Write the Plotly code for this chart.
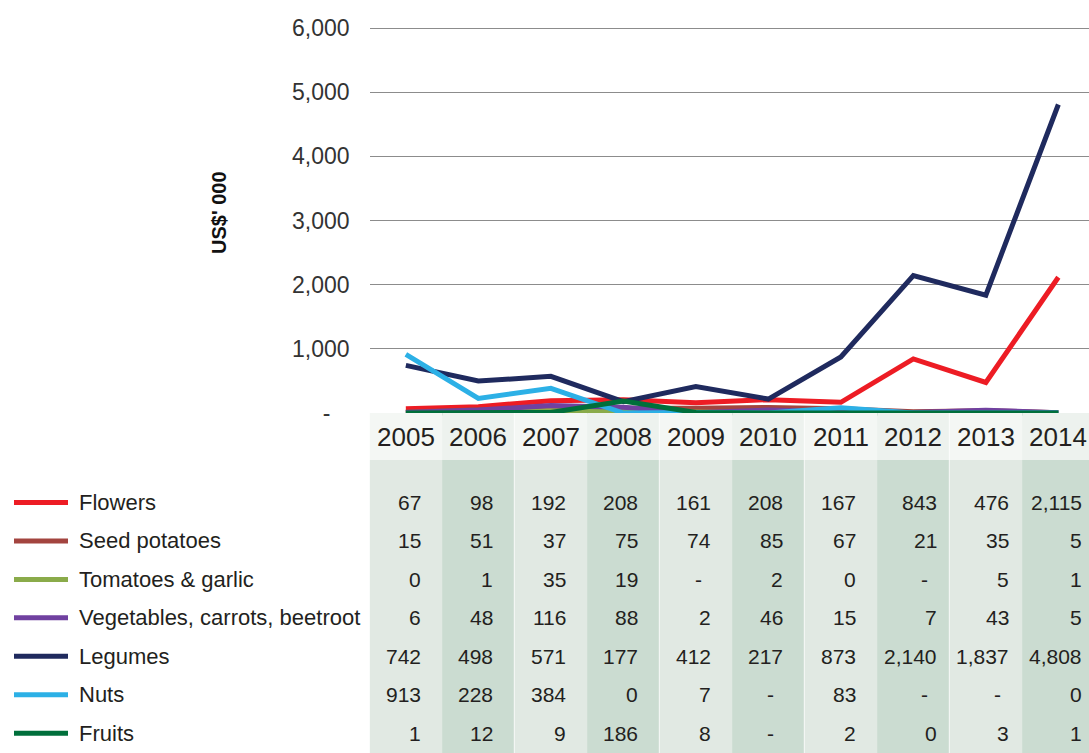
import plotly.graph_objects as go

# ---------------- data ----------------
years = [2005, 2006, 2007, 2008, 2009, 2010, 2011, 2012, 2013, 2014]
series_names = ["Flowers", "Seed potatoes", "Tomatoes & garlic",
                "Vegetables, carrots, beetroot", "Legumes", "Nuts", "Fruits"]
flowers = [67, 98, 192, 208, 161, 208, 167, 843, 476, 2115]
seed_potatoes = [15, 51, 37, 75, 74, 85, 67, 21, 35, 5]
tomatoes_garlic = [0, 1, 35, 19, None, 2, 0, None, 5, 1]
vegetables = [6, 48, 116, 88, 2, 46, 15, 7, 43, 5]
legumes = [742, 498, 571, 177, 412, 217, 873, 2140, 1837, 4808]
nuts = [913, 228, 384, 0, 7, None, 83, None, None, 0]
fruits = [1, 12, 9, 186, 8, None, 2, 0, 3, 1]
y_tickvals = [0, 1000, 2000, 3000, 4000, 5000, 6000]
y_ticktext = ["-\u00a0\u00a0\u00a0", "1,000", "2,000", "3,000", "4,000", "5,000", "6,000"]
y_title = "US$' 000"

series_values = [flowers, seed_potatoes, tomatoes_garlic, vegetables, legumes, nuts, fruits]
colors = ["#ed1c24", "#a3443f", "#8aab4a", "#7041a0", "#1f2a5e", "#2cb0e6", "#006f3b"]

# ---------------- layout constants (pixels) ----------------
W, H = 1089, 753
plot_left = 369.6
col_w = 72.5
y_top_px, y_zero_px = 28, 413
px_per_unit = (y_zero_px - y_top_px) / 6000.0
chart_top_px = 24
chart_bottom_px = 421
row0_px, row_h = 502.5, 38.45
header_bottom_px = 460

def pf(p):  # pixel y -> paper fraction
    return 1 - p / H

x_lo = 2004.5
x_hi = 2004.5 + (W - plot_left) / col_w
y_lo = -(chart_bottom_px - y_zero_px) / px_per_unit
y_hi = 6000 + (y_top_px - chart_top_px) / px_per_unit

# rows axis (table)
r_top = (y_zero_px - row0_px) / row_h
r_bot = (H - row0_px) / row_h
r_head = (437 - row0_px) / row_h
r_head_bottom = (header_bottom_px - row0_px) / row_h

font_family = "Liberation Sans, Arial, sans-serif"
txt_color = "#231f20"

fig = go.Figure()

for name, vals, c in zip(series_names, series_values, colors):
    fig.add_trace(go.Scatter(
        x=years, y=[v if v is not None else 0 for v in vals],
        mode="lines", name=name, line=dict(color=c, width=5),
        showlegend=False, hoverinfo="x+y+name"))

# invisible trace to create the table subplot
fig.add_trace(go.Scatter(x=[years[0]], y=[0], xaxis="x", yaxis="y2", mode="markers",
                         marker=dict(opacity=0), showlegend=False, hoverinfo="skip"))

shapes = []
annotations = []

# table column backgrounds and header
for i, yr in enumerate(years):
    dark = (i % 2 == 1)
    shapes.append(dict(type="rect", xref="x", yref="y2", x0=yr - 0.5, x1=yr + 0.5,
                       y0=r_head_bottom, y1=r_bot, fillcolor="#cbdcd1" if dark else "#e1e9e3",
                       line=dict(width=0), layer="below"))
    shapes.append(dict(type="rect", xref="x", yref="y2", x0=yr - 0.5, x1=yr + 0.5,
                       y0=r_top, y1=r_head_bottom, fillcolor="#edf2ee" if dark else "#f4f7f4",
                       line=dict(width=0), layer="below"))
    if dark:
        shapes.append(dict(type="line", xref="x", yref="y2", x0=yr + 0.5, x1=yr + 0.5,
                           y0=r_top, y1=r_bot, line=dict(color="white", width=1.5), layer="below"))
    annotations.append(dict(x=yr, y=r_head, xref="x", yref="y2", text=str(yr), showarrow=False,
                            xanchor="center", yanchor="middle",
                            font=dict(family=font_family, size=26, color=txt_color)))
    wide = any(v is not None and v >= 1000 for v in (s[i] for s in series_values))
    pad = 0.15 if wide else 0.27
    for r, vals in enumerate(series_values):
        v = vals[i]
        t = "-" if v is None else f"{v:,}"
        xx = yr + 0.5 - pad
        if v is None:
            xx -= 0.12
        annotations.append(dict(x=xx, y=r, xref="x", yref="y2", text=t, showarrow=False,
                                xanchor="right", yanchor="middle",
                                font=dict(family=font_family, size=21, color=txt_color)))

# legend rows
for r, (name, c) in enumerate(zip(series_names, colors)):
    shapes.append(dict(type="line", xref="paper", yref="y2", x0=14 / W, x1=68 / W, y0=r, y1=r,
                       line=dict(color=c, width=5)))
    annotations.append(dict(x=77 / W, y=r, xref="paper", yref="y2", text=name, showarrow=False,
                            xanchor="left", yanchor="middle",
                            font=dict(family=font_family, size=22, color=txt_color)))

# y-axis title
annotations.append(dict(x=219 / W, y=pf(213), xref="paper", yref="paper", text="<b>" + y_title + "</b>",
                        textangle=-90, showarrow=False, xanchor="center", yanchor="middle",
                        font=dict(family=font_family, size=20, color="#111111")))

fig.update_layout(
    width=W, height=H, autosize=False,
    margin=dict(l=0, r=0, t=0, b=0, pad=0, autoexpand=False),
    paper_bgcolor="white", plot_bgcolor="rgba(0,0,0,0)",
    showlegend=False,
    xaxis=dict(domain=[plot_left / W, 1], range=[x_lo, x_hi], showgrid=False, zeroline=False,
               showticklabels=False, ticks="", showline=False, anchor="y", automargin=False),
    yaxis=dict(domain=[pf(chart_bottom_px), pf(chart_top_px)], range=[y_lo, y_hi],
               tickvals=y_tickvals, ticktext=y_ticktext, showgrid=True, gridcolor="#8c8c8c",
               gridwidth=1.3, zeroline=False, showline=False, ticks="",
               ticklabelstandoff=19, automargin=False,
               tickfont=dict(family=font_family, size=23, color="#333333"), anchor="x"),
    yaxis2=dict(domain=[0, pf(y_zero_px)], range=[r_bot, r_top], visible=False, anchor="x",
                showgrid=False, zeroline=False, automargin=False),
    shapes=shapes, annotations=annotations,
)

fig.write_html("out.html", config={"displayModeBar": False},
               post_script="document.body.style.margin='0';document.documentElement.style.overflow='hidden';")
